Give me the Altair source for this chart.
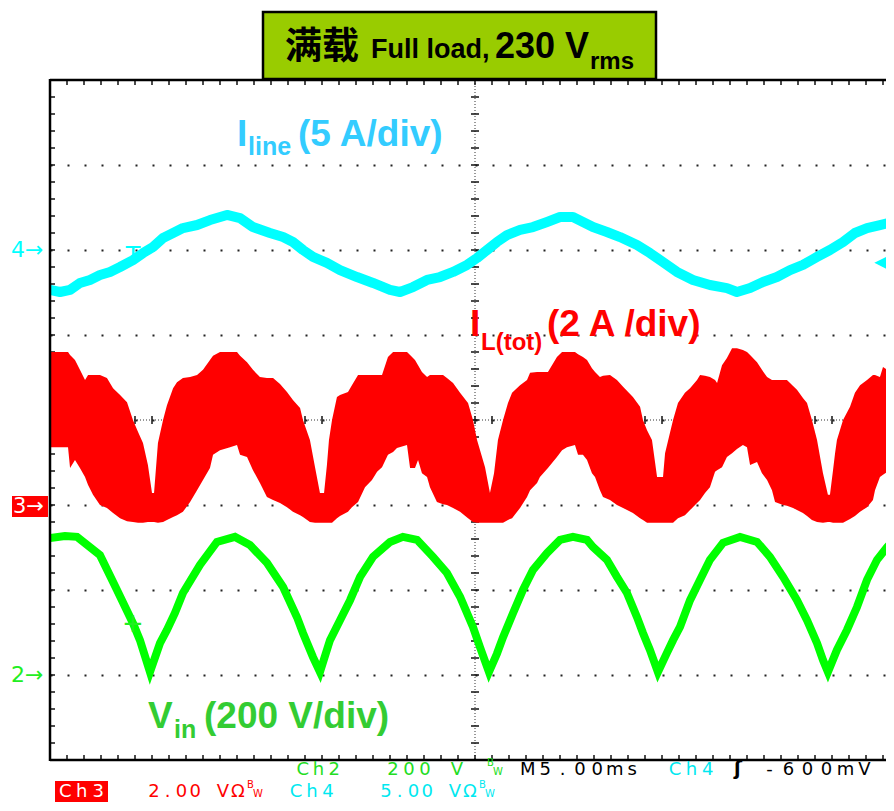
import altair as alt
import pandas as pd

# CH2: rectified input voltage Vin (V), 200 V/div  (time in ms, 5 ms/div)
vin_t = [0.00, 0.88, 1.59, 2.94, 3.94, 4.88, 5.29, 5.88, 6.47, 6.88,
         7.35, 7.82, 8.82, 9.82, 10.88, 11.76, 12.76, 13.71, 14.53, 14.88,
         15.47, 15.88, 16.47, 17.06, 17.65, 18.24, 19.00, 20.00, 20.76, 21.59,
         22.53, 23.35, 24.12, 24.88, 25.29, 25.82, 26.29, 26.65, 27.24, 27.82,
         28.41, 29.24, 30.00, 30.76, 31.59, 31.94, 32.76, 33.35, 33.94, 34.53,
         34.88, 35.29, 35.76, 36.29, 36.65, 37.06, 37.65, 38.24, 38.82, 39.59,
         40.59, 41.59, 42.35, 43.12, 43.94, 44.53, 45.12, 45.47, 45.76, 46.29,
         46.88, 47.47, 48.06, 48.65, 49.24, 49.65]
vin_v = [322, 327, 325, 282, 200, 122, 82, 7, 75, 106,
         146, 193, 259, 313, 325, 306, 264, 207, 136, 99,
         42, 7, 82, 129, 176, 231, 278, 313, 325, 318,
         278, 240, 184, 113, 66, 7, 50, 89, 146, 200,
         247, 287, 318, 325, 318, 301, 271, 231, 193, 136,
         99, 59, 7, 52, 82, 113, 176, 224, 271, 311,
         325, 313, 278, 231, 176, 129, 75, 35, 7, 59,
         106, 160, 224, 271, 301, 318]

# CH4: line current I_line (A), 5 A/div
iline_t = [0.00, 0.59, 1.18, 1.76, 2.35, 2.94, 3.53, 4.12, 4.88, 5.47,
           6.06, 6.65, 7.24, 7.82, 8.65, 9.41, 10.41, 11.18, 11.94, 12.94,
           13.71, 14.29, 14.88, 15.47, 16.29, 17.06, 18.06, 19.00, 20.00, 20.59,
           21.35, 22.18, 22.94, 23.71, 24.53, 25.12, 25.71, 26.29, 26.88, 27.65,
           28.41, 29.24, 30.00, 30.76, 31.35, 31.94, 32.76, 33.53, 34.53, 35.29,
           36.06, 36.88, 37.82, 38.82, 39.82, 40.41, 41.18, 41.94, 42.76, 43.53,
           44.29, 45.12, 45.88, 46.65, 47.35, 48.06, 48.82, 49.65]
iline_a = [-2.35, -2.47, -2.35, -1.94, -1.76, -1.47, -1.29, -1.00, -0.59, -0.18,
           0.18, 0.71, 1.00, 1.29, 1.47, 1.76, 2.06, 1.88, 1.35, 1.00,
           0.76, 0.47, 0.00, -0.41, -0.76, -1.18, -1.59, -1.94, -2.35, -2.47,
           -2.18, -1.76, -1.59, -1.29, -0.88, -0.47, 0.00, 0.47, 0.88, 1.18,
           1.35, 1.65, 1.94, 1.94, 1.65, 1.35, 1.06, 0.76, 0.29, -0.18,
           -0.71, -1.29, -1.76, -2.06, -2.24, -2.47, -2.24, -1.88, -1.59, -1.18,
           -0.88, -0.41, 0.00, 0.47, 1.00, 1.29, 1.47, 1.65]

# CH3: total inductor current I_L(tot) (A), 2 A/div -- upper / lower envelope
ilt_t = [0.00, 0.59, 1.06, 1.18, 1.47, 1.76, 2.06, 2.24, 2.53, 2.94,
         3.35, 3.71, 4.12, 4.53, 4.88, 5.18, 5.47, 5.76, 6.00, 6.12,
         6.35, 6.65, 6.88, 7.24, 7.47, 7.82, 8.24, 8.65, 9.00, 9.41,
         9.59, 10.00, 10.59, 11.00, 11.18, 11.59, 11.94, 12.35, 12.76, 13.12,
         13.53, 13.94, 14.29, 14.71, 14.88, 15.29, 15.59, 15.88, 16.12, 16.29,
         16.41, 16.59, 16.88, 17.06, 17.53, 17.76, 18.12, 18.53, 18.94, 19.24,
         19.53, 19.88, 20.18, 20.41, 21.00, 21.18, 21.47, 21.65, 21.88, 22.18,
         22.35, 22.76, 23.12, 23.35, 23.71, 24.12, 24.59, 24.88, 25.12, 25.59,
         25.88, 26.12, 26.35, 26.65, 26.94, 27.18, 27.65, 28.06, 28.24, 28.65,
         28.82, 29.29, 29.53, 29.82, 30.12, 30.41, 30.88, 31.06, 31.35, 31.59,
         31.88, 32.06, 32.35, 32.53, 32.94, 33.35, 33.71, 34.29, 34.71, 34.88,
         35.12, 35.41, 35.71, 36.06, 36.18, 36.65, 36.94, 37.35, 37.65, 38.06,
         38.24, 38.53, 38.82, 39.12, 39.24, 39.53, 39.82, 40.12, 40.41, 40.76,
         41.00, 41.18, 41.59, 41.88, 42.18, 42.47, 42.65, 43.12, 43.35, 43.71,
         43.94, 44.29, 44.53, 44.82, 45.12, 45.47, 45.76, 45.88, 46.06, 46.18,
         46.29, 46.65, 47.06, 47.35, 47.65, 48.06, 48.41, 48.53, 48.82, 49.00,
         49.24, 49.41, 49.65]
ilt_hi = [3.60, 3.60, 3.60, 3.53, 3.41, 3.18, 2.94, 3.06, 3.06, 3.06,
          2.99, 2.75, 2.59, 2.42, 2.00, 1.72, 1.46, 0.94, 0.28, 0.28,
          1.46, 2.00, 2.35, 2.75, 2.89, 2.99, 3.01, 3.06, 3.18, 3.41,
          3.51, 3.60, 3.60, 3.60, 3.51, 3.36, 3.18, 3.01, 2.99, 2.99,
          2.85, 2.66, 2.47, 2.28, 2.00, 1.53, 0.89, 0.28, 0.28, 0.94,
          1.53, 2.00, 2.54, 2.59, 2.66, 2.82, 3.06, 3.06, 3.06, 3.06,
          3.06, 3.48, 3.60, 3.60, 3.60, 3.53, 3.41, 3.29, 3.13, 3.01,
          3.06, 3.06, 3.06, 2.99, 2.87, 2.64, 2.40, 2.00, 1.53, 0.89,
          0.28, 0.75, 1.53, 2.00, 2.40, 2.64, 2.82, 2.94, 3.11, 3.13,
          3.13, 3.13, 3.29, 3.48, 3.60, 3.60, 3.60, 3.55, 3.48, 3.41,
          3.22, 3.13, 3.01, 3.04, 3.06, 2.94, 2.78, 2.54, 2.31, 2.00,
          1.76, 1.53, 0.66, 0.66, 1.22, 2.00, 2.40, 2.64, 2.75, 2.94,
          3.06, 3.04, 3.01, 2.94, 2.87, 3.29, 3.46, 3.69, 3.69, 3.65,
          3.60, 3.53, 3.36, 3.18, 3.01, 2.94, 2.94, 2.94, 2.94, 2.80,
          2.71, 2.52, 2.40, 2.00, 1.53, 0.75, 0.24, 0.24, 0.82, 1.22,
          1.53, 2.00, 2.31, 2.64, 2.82, 2.94, 3.06, 3.06, 3.01, 3.25,
          3.18, 3.11, 3.41]
ilt_lo = [1.36, 1.36, 1.36, 0.87, 1.06, 0.87, 0.66, 0.47, 0.24, 0.00,
          -0.07, -0.19, -0.31, -0.38, -0.40, -0.42, -0.42, -0.40, -0.40, -0.40,
          -0.42, -0.40, -0.35, -0.28, -0.24, -0.16, 0.07, 0.35, 0.59, 0.87,
          1.18, 1.29, 1.36, 1.41, 1.18, 1.13, 0.82, 0.52, 0.19, 0.12,
          0.05, -0.05, -0.16, -0.24, -0.28, -0.40, -0.42, -0.42, -0.42, -0.42,
          -0.42, -0.42, -0.31, -0.26, -0.16, -0.05, 0.07, 0.42, 0.59, 0.78,
          0.89, 1.18, 1.25, 1.34, 1.41, 0.87, 0.87, 1.06, 0.75, 0.66,
          0.42, 0.07, 0.02, 0.00, -0.07, -0.16, -0.31, -0.40, -0.42, -0.42,
          -0.42, -0.42, -0.42, -0.42, -0.35, -0.31, -0.07, 0.19, 0.35, 0.52,
          0.66, 0.87, 0.99, 1.13, 1.29, 1.36, 1.41, 1.18, 1.18, 1.06,
          0.75, 0.66, 0.35, 0.19, 0.12, 0.00, -0.07, -0.19, -0.31, -0.35,
          -0.42, -0.42, -0.42, -0.42, -0.42, -0.42, -0.31, -0.24, -0.12, 0.05,
          0.12, 0.28, 0.42, 0.78, 0.82, 0.89, 1.13, 1.22, 1.32, 1.41,
          1.36, 0.94, 1.01, 0.75, 0.59, 0.35, 0.07, 0.00, -0.02, -0.07,
          -0.12, -0.19, -0.26, -0.35, -0.40, -0.42, -0.40, -0.40, -0.42, -0.42,
          -0.42, -0.42, -0.33, -0.26, -0.16, -0.05, 0.12, 0.35, 0.66, 0.71,
          0.78, 0.82, 0.89]

# graticule: 5 ms/div horizontally, 8 divisions vertically, 5 minor marks per division
grid_ms = [5, 10, 15, 20, 25, 30, 35, 40, 45]
grid_div = [-3, -2, -1, 0, 1, 2, 3]
minor_ms = [float(k) for k in range(0, 50)]
minor_div = [round(-4 + 0.2 * k, 1) for k in range(0, 41)]

# ---------------- chart ----------------
PX_PER_MS = 17
W, H = 836, 680          # screen is cut at the right edge of the page
T_MAX = W / PX_PER_MS
CYAN = "#00FFFF"
RED = "#FF0000"
GREEN = "#00FF00"

xs = alt.Scale(domain=[0, T_MAX], nice=False, zero=False)
ys_div = alt.Scale(domain=[-4, 4], nice=False, zero=False)

dummy = pd.DataFrame({"k": [0]})

grid = alt.Chart(pd.DataFrame({"t": [0.0], "d": [0.0]})).mark_point(opacity=0).encode(
    x=alt.X("t:Q", scale=xs, axis=alt.Axis(values=grid_ms, grid=True, gridDash=[2, 15],
            gridColor="#222222", gridWidth=2, gridOpacity=1, labels=False, ticks=False,
            domain=False, title=None)),
    y=alt.Y("d:Q", scale=ys_div, axis=alt.Axis(values=grid_div, grid=True, gridDash=[2, 15],
            gridColor="#222222", gridWidth=2, gridOpacity=1, labels=False, ticks=False,
            domain=False, title=None)),
)

# centre cross: dense dotted lines
center_v = alt.Chart(dummy).mark_rule(color="#333333", strokeWidth=1, strokeDash=[1, 2]).encode(
    x=alt.value(425), y=alt.value(0), y2=alt.value(H))
center_h = alt.Chart(dummy).mark_rule(color="#333333", strokeWidth=1, strokeDash=[1, 2]).encode(
    x=alt.value(0), x2=alt.value(W), y=alt.value(340))

ms_df = pd.DataFrame({"t": minor_ms})
div_df = pd.DataFrame({"d": minor_div})

tick_top = alt.Chart(ms_df).mark_rule(color="#111111", strokeWidth=1.5).encode(
    x=alt.X("t:Q", scale=xs, axis=None), y=alt.value(1), y2=alt.value(5))
tick_bot = alt.Chart(ms_df).mark_rule(color="#111111", strokeWidth=1.5).encode(
    x=alt.X("t:Q", scale=xs, axis=None), y=alt.value(H - 5), y2=alt.value(H - 1))
tick_ch = alt.Chart(ms_df).mark_rule(color="#111111", strokeWidth=1.5).encode(
    x=alt.X("t:Q", scale=xs, axis=None), y=alt.value(336), y2=alt.value(344))
tick_left = alt.Chart(div_df).mark_rule(color="#111111", strokeWidth=1.5).encode(
    y=alt.Y("d:Q", scale=ys_div, axis=None), x=alt.value(1), x2=alt.value(5))
tick_cv = alt.Chart(div_df).mark_rule(color="#111111", strokeWidth=1.5).encode(
    y=alt.Y("d:Q", scale=ys_div, axis=None), x=alt.value(421), x2=alt.value(429))

border_l = alt.Chart(dummy).mark_rule(color="black", strokeWidth=2.5).encode(
    x=alt.value(0), y=alt.value(-1), y2=alt.value(H + 1))
border_t = alt.Chart(dummy).mark_rule(color="black", strokeWidth=2.5).encode(
    x=alt.value(0), x2=alt.value(W), y=alt.value(0))
border_b = alt.Chart(dummy).mark_rule(color="black", strokeWidth=2.5).encode(
    x=alt.value(0), x2=alt.value(W), y=alt.value(H))

# traces (each channel has its own units/div and ground marker)
ch3 = alt.Chart(pd.DataFrame({"t": ilt_t, "hi": ilt_hi, "lo": ilt_lo})).mark_area(
    color=RED, opacity=1, interpolate="linear", clip=True).encode(
    x=alt.X("t:Q", scale=xs, axis=None),
    y=alt.Y("hi:Q", scale=alt.Scale(domain=[-6, 10], nice=False, zero=False), axis=None),
    y2="lo:Q")

ch4 = alt.Chart(pd.DataFrame({"t": iline_t, "a": iline_a})).mark_line(
    color=CYAN, strokeWidth=10, strokeJoin="round", clip=True).encode(
    x=alt.X("t:Q", scale=xs, axis=None),
    y=alt.Y("a:Q", scale=alt.Scale(domain=[-30, 10], nice=False, zero=False), axis=None))

ch2 = alt.Chart(pd.DataFrame({"t": vin_t, "v": vin_v})).mark_line(
    color=GREEN, strokeWidth=8, strokeJoin="miter", clip=True).encode(
    x=alt.X("t:Q", scale=xs, axis=None),
    y=alt.Y("v:Q", scale=alt.Scale(domain=[-200, 1400], nice=False, zero=False), axis=None))


def txt(s, x, y, size, color, font="Liberation Sans", weight="bold", align="left",
        baseline="alphabetic"):
    return alt.Chart(pd.DataFrame({"s": [s]})).mark_text(
        fontSize=size, color=color, font=font, fontWeight=weight, align=align,
        baseline=baseline).encode(x=alt.value(x), y=alt.value(y), text="s:N")


def spaced(s, x0, y, pitch, size, color):
    """scope read-out text: one glyph per fixed-pitch cell"""
    df = pd.DataFrame({"ch": list(s), "i": list(range(len(s)))})
    return alt.Chart(df).transform_calculate(
        px=f"{x0} + {pitch} * (datum.i + 0.5)").mark_text(
        fontSize=size, color=color, font="DejaVu Sans", align="center",
        baseline="alphabetic").encode(
        x=alt.X("px:Q", scale=None, axis=None), y=alt.value(y), text="ch:N")


def box(x, x2, y, y2, fill, stroke=None, sw=0):
    kw = dict(fill=fill)
    if stroke:
        kw.update(stroke=stroke, strokeWidth=sw)
    return alt.Chart(dummy).mark_rect(**kw).encode(
        x=alt.value(x), x2=alt.value(x2), y=alt.value(y), y2=alt.value(y2))


SANS = "Liberation Sans"
DV = "DejaVu Sans"
LBL_CYAN = "#33CCFF"
LBL_GREEN = "#33CC33"
RO_GREEN = "#22DD22"
RO_CYAN = "#00E8F0"
RO = 18          # read-out font size
R1, R2 = 695, 717  # read-out baselines (plot pixels)

texts = [
    # title box
    box(213, 606, -68, -1, "#99CC00", "black", 2.5),
    txt("满载", 235, -21, 37, "black", font="Noto Sans CJK SC"),
    txt("Full load,", 321, -22, 27, "black", font=SANS),
    txt("230 V", 445, -22, 36, "black", font=SANS),
    txt("rms", 540, -11, 24, "black", font=SANS),
    # channel labels
    txt("I", 187, 66, 37, LBL_CYAN),
    txt("line", 198, 75, 25, LBL_CYAN),
    txt("(5 A/div)", 248, 66, 37, LBL_CYAN),
    txt("I", 420, 256, 37, RED),
    txt("L(tot)", 431, 270, 24, RED),
    txt("(2 A /div)", 497, 256, 37, RED),
    txt("V", 98, 648, 37, LBL_GREEN),
    txt("in", 124, 658, 25, LBL_GREEN),
    txt("(200 V/div)", 154, 648, 37, LBL_GREEN),
    # ground markers
    txt("4→", -39, 170, 22, CYAN, font=DV, weight="normal", baseline="middle"),
    box(-38, -2, 416, 437, RED),
    txt("3→", -37, 427, 21, "white", font=DV, weight="normal", baseline="middle"),
    txt("2→", -39, 595, 22, "#22EE22", font=DV, weight="normal", baseline="middle"),
    # trigger markers
    txt("T", 83, 177, 24, CYAN, font=DV, weight="normal", align="center", baseline="middle"),
    txt("+", 83, 544, 26, "#22EE22", font=DV, weight="normal", align="center", baseline="middle"),
    txt("◀", 824, 182, 16, CYAN, font=DV, weight="normal", baseline="middle"),
    # read-out row 1
    spaced("Ch2", 245, R1, 15.7, RO, RO_GREEN),
    spaced("200 V", 335, R1, 16, RO, RO_GREEN),
    txt("B", 437, R1 - 9, 10, RO_GREEN, font=DV, weight="normal"),
    txt("W", 443, R1, 10, RO_GREEN, font=DV, weight="normal"),
    spaced("M5.00ms", 469, R1, 17.4, RO, "black"),
    spaced("Ch4", 617, R1, 16.3, RO, RO_CYAN),
    txt("ʃ", 684, R1, 19, "black", font=DV, weight="bold"),
    spaced("-600mV", 710, R1, 19, RO, "black"),
    # read-out row 2
    box(5, 58, 701, 722, RED),
    spaced("Ch3", 7, R2, 16.5, RO, "white"),
    spaced("2.00 V", 97, R2, 13.8, RO, RED),
    txt("Ω", 181, R2, RO, RED, font=DV, weight="normal"),
    txt("B", 197, R2 - 9, 10, RED, font=DV, weight="normal"),
    txt("W", 203, R2, 10, RED, font=DV, weight="normal"),
    spaced("Ch4", 238, R2, 16, RO, RO_CYAN),
    spaced("5.00 V", 329, R2, 13.8, RO, RO_CYAN),
    txt("Ω", 413, R2, RO, RO_CYAN, font=DV, weight="normal"),
    txt("B", 429, R2 - 9, 10, RO_CYAN, font=DV, weight="normal"),
    txt("W", 435, R2, 10, RO_CYAN, font=DV, weight="normal"),
]

chart = alt.layer(
    grid, center_v, center_h, tick_top, tick_bot, tick_ch, tick_left, tick_cv,
    ch3, ch4, ch2, border_l, border_t, border_b, *texts
).resolve_scale(y="independent").properties(
    width=W, height=H,
    padding={"left": 42, "top": 72, "right": 0, "bottom": 43},
    autosize=alt.AutoSizeParams(type="none"),
    background="white",
).configure_view(stroke=None)

chart.save("out.html", embed_options={"renderer": "svg", "actions": False})
